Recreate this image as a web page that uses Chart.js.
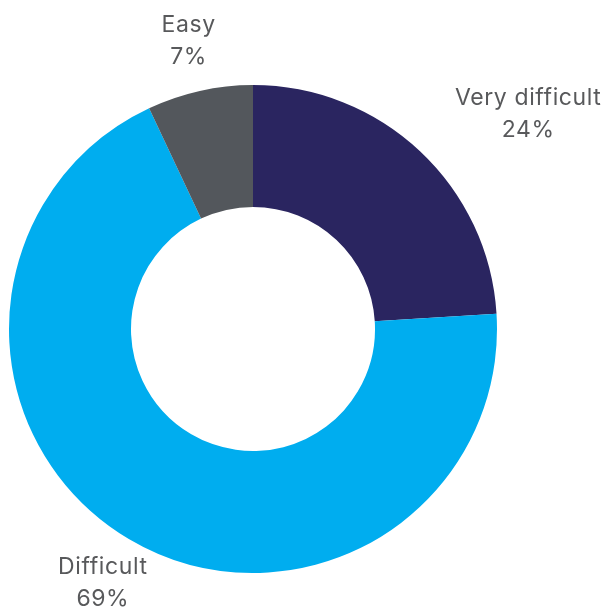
<!DOCTYPE html>
<html>
<head>
<meta charset="utf-8">
<style>
  html, body { margin: 0; padding: 0; background: #ffffff; }
  #wrap { width: 606px; height: 609px; position: relative; }
</style>
<script src="https://cdn.jsdelivr.net/npm/chart.js@4/dist/chart.umd.min.js"></script>
</head>
<body>
<div id="wrap"><canvas id="chart" width="606" height="609"></canvas></div>
<script>
// Survey answers, in clockwise order from 12 o'clock
const categories = ['Very difficult', 'Difficult', 'Easy'];
const shares = [24, 69, 7];
const sliceColors = ['#2a2560', '#00adef', '#53575c'];

// Two-line outside labels: category name, then its share
const outsideLabels = {
  id: 'outsideLabels',
  afterDatasetsDraw(chart) {
    const ctx = chart.ctx;
    const meta = chart.getDatasetMeta(0);
    ctx.save();
    ctx.font = '23px Inter, "Open Sans", sans-serif';
    if ('letterSpacing' in ctx) ctx.letterSpacing = '0.6px';
    ctx.fillStyle = '#58595b';
    ctx.textBaseline = 'middle';
    ctx.textAlign = 'center';
    meta.data.forEach((arc, i) => {
      const p = arc.getProps(['x', 'y', 'startAngle', 'endAngle', 'outerRadius'], true);
      const mid = (p.startAngle + p.endAngle) / 2;
      const r = p.outerRadius + 51;
      const ax = p.x + Math.cos(mid) * r;
      const ay = p.y + Math.sin(mid) * r;
      const lines = [categories[i], shares[i] + '%'];
      const w = Math.max(...lines.map(t => ctx.measureText(t).width));
      let cx = ax;
      if (Math.cos(mid) > 0.6) cx = ax + w / 2;
      else if (Math.cos(mid) < -0.6) cx = ax - w / 2;
      ctx.fillText(lines[0], cx, ay - 16);
      ctx.fillText(lines[1], cx, ay + 16);
    });
    ctx.restore();
  }
};

new Chart(document.getElementById('chart'), {
  type: 'doughnut',
  data: {
    labels: categories,
    datasets: [{
      data: shares,
      backgroundColor: sliceColors,
      borderWidth: 0
    }]
  },
  options: {
    responsive: false,
    animation: false,
    cutout: '50%',
    layout: { padding: { left: 9, right: 109, top: 85, bottom: 36 } },
    plugins: {
      legend: { display: false },
      tooltip: { enabled: false }
    }
  },
  plugins: [outsideLabels]
});
</script>
</body>
</html>
